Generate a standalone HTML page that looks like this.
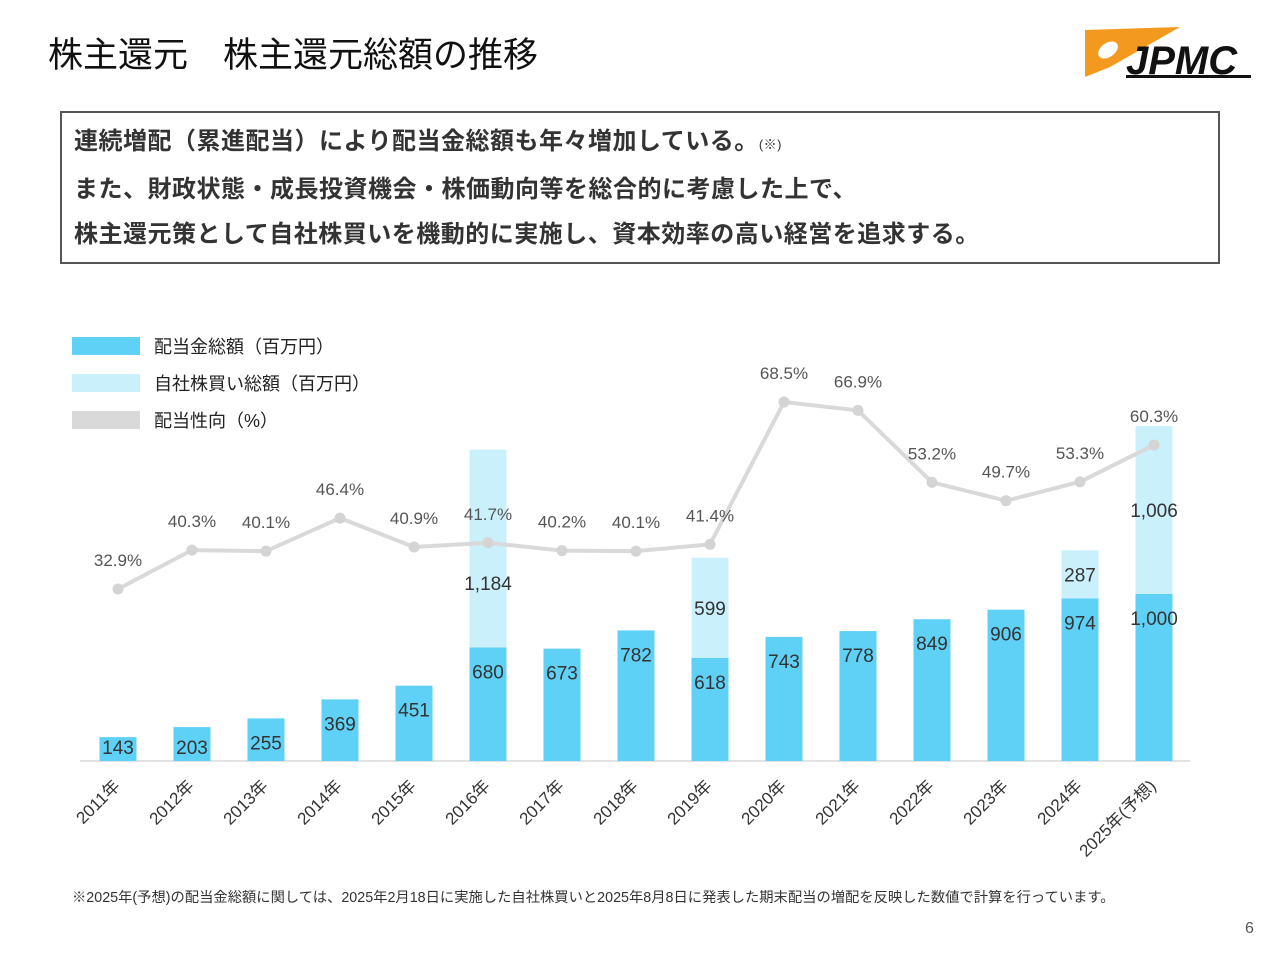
<!DOCTYPE html>
<html><head><meta charset="utf-8"><style>
body{margin:0;width:1280px;height:960px;background:#fff;font-family:"Liberation Sans","Noto Sans CJK JP",sans-serif;position:relative;overflow:hidden}
.t{position:absolute}
</style></head><body>
<div class="t" style="left:48px;top:27px;font-size:35px;color:#111;white-space:pre">株主還元　株主還元総額の推移</div>
<svg class="t" style="left:1080px;top:22px" width="180" height="60" viewBox="0 0 180 60">
<polygon points="5,8 100,5 30,45 5,55" fill="#f39a1e"/>
<ellipse cx="28" cy="28" rx="11" ry="7" fill="#fff" transform="rotate(-35 28 28)"/>
<text x="46" y="52" font-size="40" font-weight="bold" font-style="italic" fill="#111" font-family="Liberation Sans, sans-serif">JPMC</text>
<rect x="46" y="53" width="125" height="3" fill="#111"/>
</svg>
<div class="t" style="left:60px;top:111px;width:1160px;height:153px;border:2px solid #555;font-size:24px;letter-spacing:0.5px;font-weight:bold;color:#333;line-height:45px;padding:6px 0 0 12px;box-sizing:border-box;white-space:nowrap">
<div>連続増配（累進配当）により配当金総額も年々増加している。<span style="font-size:13px;font-weight:normal">(※)</span></div>
<div>また、財政状態・成長投資機会・株価動向等を総合的に考慮した上で、</div>
<div>株主還元策として自社株買いを機動的に実施し、資本効率の高い経営を追求する。</div>
</div>
<svg id="chart" class="t" style="left:0;top:0" width="1280" height="960"></svg>
<div class="t" style="left:72px;top:886px;font-size:14.3px;color:#333;white-space:nowrap">※2025年(予想)の配当金総額に関しては、2025年2月18日に実施した自社株買いと2025年8月8日に発表した期末配当の増配を反映した数値で計算を行っています。</div>
<div class="t" style="left:1245px;top:920px;font-size:16px;color:#555">6</div>
<script>
const years=["2011年","2012年","2013年","2014年","2015年","2016年","2017年","2018年","2019年","2020年","2021年","2022年","2023年","2024年","2025年(予想)"];
const dividends=[143,203,255,369,451,680,673,782,618,743,778,849,906,974,1000];
const buybacks=[0,0,0,0,0,1184,0,0,599,0,0,0,0,287,1006];
const payout=[32.9,40.3,40.1,46.4,40.9,41.7,40.2,40.1,41.4,68.5,66.9,53.2,49.7,53.3,60.3];
const NS="http://www.w3.org/2000/svg",svg=document.getElementById('chart');
const base=761,x=i=>118+i*74,yv=v=>base-v*0.167,yp=p=>589-(p-32.9)*5.253;
function mk(t,a,txt){const e=document.createElementNS(NS,t);for(const k in a)e.setAttribute(k,a[k]);if(txt!=null)e.textContent=txt;svg.appendChild(e);return e;}
function fmt(v){return v.toLocaleString('en-US');}
[["#5fd0f6","配当金総額（百万円）",346],["#c9f0fb","自社株買い総額（百万円）",383],["#d9d9d9","配当性向（%）",420]].forEach((l,k)=>{
 const r=mk('rect',{x:72,y:l[2]-9,width:68,height:18,fill:l[0]});
 
 
 const t=mk('text',{x:154,y:l[2]+7,'font-size':18,fill:'#222'},l[1]);
 
 
});
const axis=mk('line',{x1:80,x2:1190,y1:base,y2:base,stroke:'#d9d9d9','stroke-width':1.5});


const labels=[];
years.forEach((yr,i)=>{
 const cx=x(i),top=yv(dividends[i]);
 const b=mk('rect',{x:cx-18.5,y:top,width:37,height:base-top,fill:'#5fd0f6'});
 
 
 const ly=Math.min(top+24,base-14);
 labels.push(['dividend-label-'+i,cx,ly+7,fmt(dividends[i])]);
 if(buybacks[i]>0){
  const t2=yv(dividends[i]+buybacks[i]);
  const s=mk('rect',{x:cx-18.5,y:t2,width:37,height:top-t2,fill:'#c9f0fb'});
  
  
  let my=(t2+top)/2;
  const lp=yp(payout[i]);
  if(Math.abs(my-lp)<25) my=lp+40;
  labels.push(['buyback-label-'+i,cx,my+7,fmt(buybacks[i])]);
 }
 const ax=cx+3,ay=base+26;
 const xl=mk('text',{x:ax,y:ay,'font-size':17,fill:'#333','text-anchor':'end',transform:`rotate(-45 ${ax} ${ay})`},yr);
 
 
});
const line=mk('polyline',{points:payout.map((p,i)=>x(i)+','+yp(p)).join(' '),fill:'none',stroke:'#d9d9d9','stroke-width':4});


payout.forEach((p,i)=>{
 const c=mk('circle',{cx:x(i),cy:yp(p),r:5.5,fill:'#d4d4d4'});
 
 
 const t=mk('text',{x:x(i),y:yp(p)-23,'font-size':17,fill:'#555','text-anchor':'middle'},p.toFixed(1)+'%');
 
 
});
labels.forEach(l=>{
 const t=mk('text',{x:l[1],y:l[2],'font-size':19,fill:'#333','text-anchor':'middle'},l[3]);
 
 
});
</script>
</body></html>
